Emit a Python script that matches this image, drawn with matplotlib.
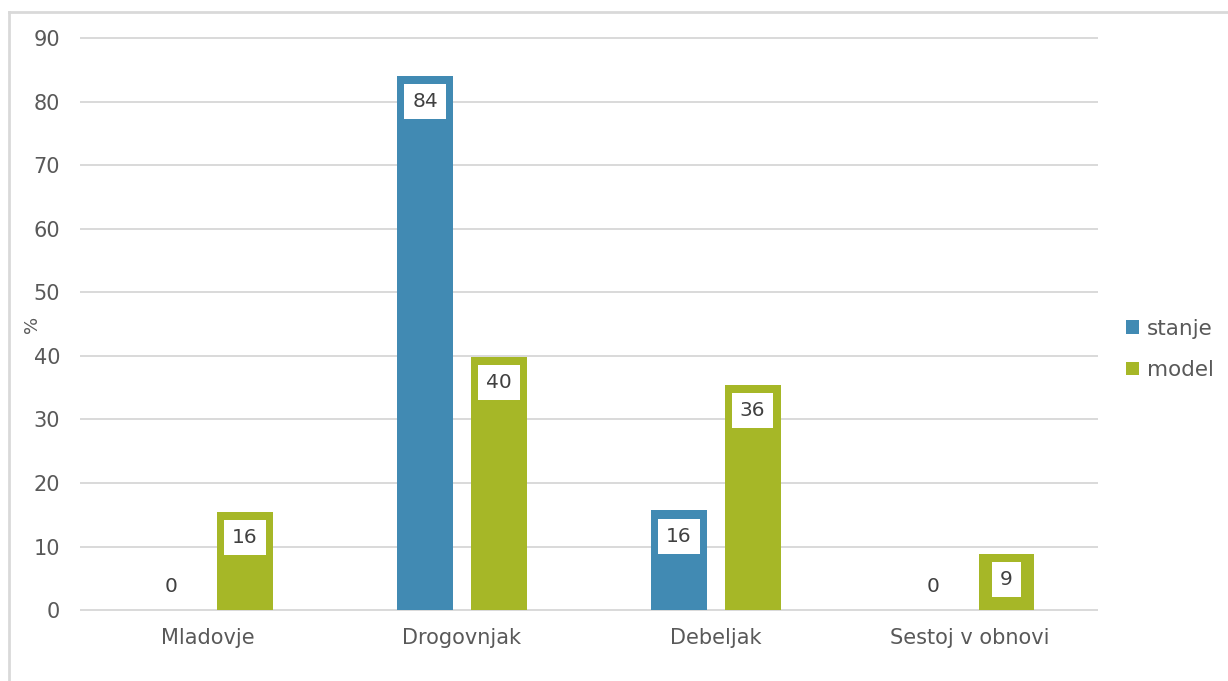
import matplotlib.pyplot as plt
import numpy as np
from matplotlib.lines import Line2D

# data
categories = ['Mladovje', 'Drogovnjak', 'Debeljak', 'Sestoj v obnovi']
stanje = [0, 84.1, 15.7, 0]
model = [15.5, 39.9, 35.5, 8.9]
series_names = ['stanje', 'model']
colors = ['#418AB3', '#A6B727']
yticks = [0, 10, 20, 30, 40, 50, 60, 70, 80, 90]

text_col = '#595959'
grid_col = '#D9D9D9'

plt.rcParams['font.family'] = ['DejaVu Sans']

fig = plt.figure(figsize=(12.28, 6.81), dpi=100)
ax = fig.add_axes([0.066, 0.104, 0.827, 0.840])

# light border on the left and top only (chart is cropped there)
bx, by = 8.5 / 1228, 1 - 11.5 / 681
fig.lines.append(Line2D([bx, bx], [0, by], transform=fig.transFigure, color=grid_col, lw=2))
fig.lines.append(Line2D([bx, 1], [by, by], transform=fig.transFigure, color=grid_col, lw=2))

x = np.arange(len(categories))
w = 0.22
off = 0.145
for vals, name, col, d in [(stanje, series_names[0], colors[0], -off),
                           (model, series_names[1], colors[1], off)]:
    bars = ax.bar(x + d, vals, w, color=col, label=name, zorder=3)
    for b, v in zip(bars, vals):
        cx = b.get_x() + b.get_width() / 2
        if v == 0:
            ax.annotate(f'{v:.0f}', (cx, v), xytext=(0, 17), textcoords='offset points',
                        ha='center', va='center', fontsize=14.5, color='#404040', zorder=4)
        else:
            ax.annotate(f'{v:.0f}', (cx, v), xytext=(0, -18.5), textcoords='offset points',
                        ha='center', va='center', fontsize=14.5, color='#404040', zorder=4,
                        bbox=dict(boxstyle='square,pad=0.4', fc='white', ec='none'))

ax.set_xlim(-0.5, len(categories) - 0.5)
ax.set_ylim(0, 90)
ax.set_yticks(yticks)
ax.set_xticks(x)
ax.set_xticklabels(categories)
ax.tick_params(axis='both', length=0, labelsize=15, colors=text_col)
ax.tick_params(axis='x', pad=13)
ax.tick_params(axis='y', pad=15)
ax.grid(axis='y', color=grid_col, linewidth=1.4, zorder=0)
for gl in ax.get_ygridlines():
    gl.set_clip_on(False)
for s in ax.spines.values():
    s.set_visible(False)

ax.set_ylabel('%', fontsize=13, color=text_col)
ax.yaxis.set_label_coords(-0.039, 0.5)

ax.legend(loc='center left', bbox_to_anchor=(1.01, 0.456), frameon=False,
          fontsize=15.5, labelcolor=text_col, handlelength=0.6, handleheight=0.6,
          handletextpad=0.35, labelspacing=1.0)

plt.savefig('out.png', dpi=100)
